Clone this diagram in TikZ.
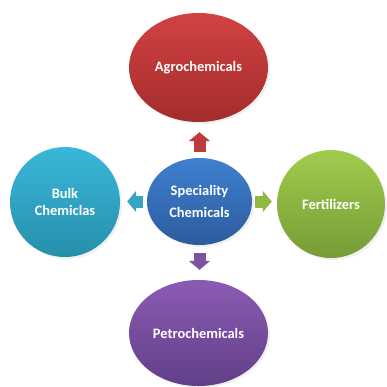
\documentclass[tikz,border=0pt]{standalone}
\usepackage{fontspec}
\setmainfont{Carlito}
\usetikzlibrary{shapes.geometric,arrows.meta,shadows}

\definecolor{agrotop}{HTML}{D24242}
\definecolor{agrobot}{HTML}{A32C2C}
\definecolor{spectop}{HTML}{3F80D0}
\definecolor{specbot}{HTML}{2C5B9C}
\definecolor{bulktop}{HTML}{3AB7D9}
\definecolor{bulkbot}{HTML}{268FAB}
\definecolor{ferttop}{HTML}{A0CC4D}
\definecolor{fertbot}{HTML}{789B37}
\definecolor{petrotop}{HTML}{8B5BB4}
\definecolor{petrobot}{HTML}{613F88}

\tikzset{
	bubble/.style={ellipse, inner sep=0pt, text=white, align=center,
		font=\bfseries\fontsize{14.5}{16.5}\selectfont,
		drop shadow={opacity=0.12, shadow xshift=2bp, shadow yshift=-2bp}},
	blockarrow/.style={line width=12bp, -{Triangle[width=21bp,length=9bp]}}
}

\begin{document}
\begin{tikzpicture}[x=1bp, y=-1bp]
			\useasboundingbox (0,0) rectangle (387,387);
			\node[bubble, top color=agrotop, bottom color=agrobot, minimum width=139bp, minimum height=109bp]
				(agro) at (198.5, 67.5) {Agrochemicals};
			\node[bubble, top color=spectop, bottom color=specbot, minimum width=105bp, minimum height=87bp]
				(spec) at (199.5, 201.5) {Speciality\\[5bp]Chemicals};
			\node[bubble, top color=bulktop, bottom color=bulkbot, minimum width=110bp, minimum height=110bp]
				(bulk) at (65, 202) {Bulk\\Chemiclas};
			\node[bubble, top color=ferttop, bottom color=fertbot, minimum width=108bp, minimum height=108bp]
				(fert) at (331, 204) {Fertilizers};
			\node[bubble, top color=petrotop, bottom color=petrobot, minimum width=139bp, minimum height=106bp]
				(petro) at (198.5, 333) {Petrochemicals};
			\draw[blockarrow, agrotop!90!black, shorten <=6bp, shorten >=10bp] (spec.north) -- (spec.north |- agro.south);
			\draw[blockarrow, bulktop!90!black, shorten <=4bp, shorten >=7bp] (spec.west) -- (spec.west -| bulk.east);
			\draw[blockarrow, ferttop!90!black, shorten <=3bp, shorten >=5bp] (spec.east) -- (spec.east -| fert.west);
			\draw[blockarrow, petrotop!90!black, shorten <=8bp, shorten >=10bp] (spec.south) -- (spec.south |- petro.north);
		\end{tikzpicture}
\end{document}
